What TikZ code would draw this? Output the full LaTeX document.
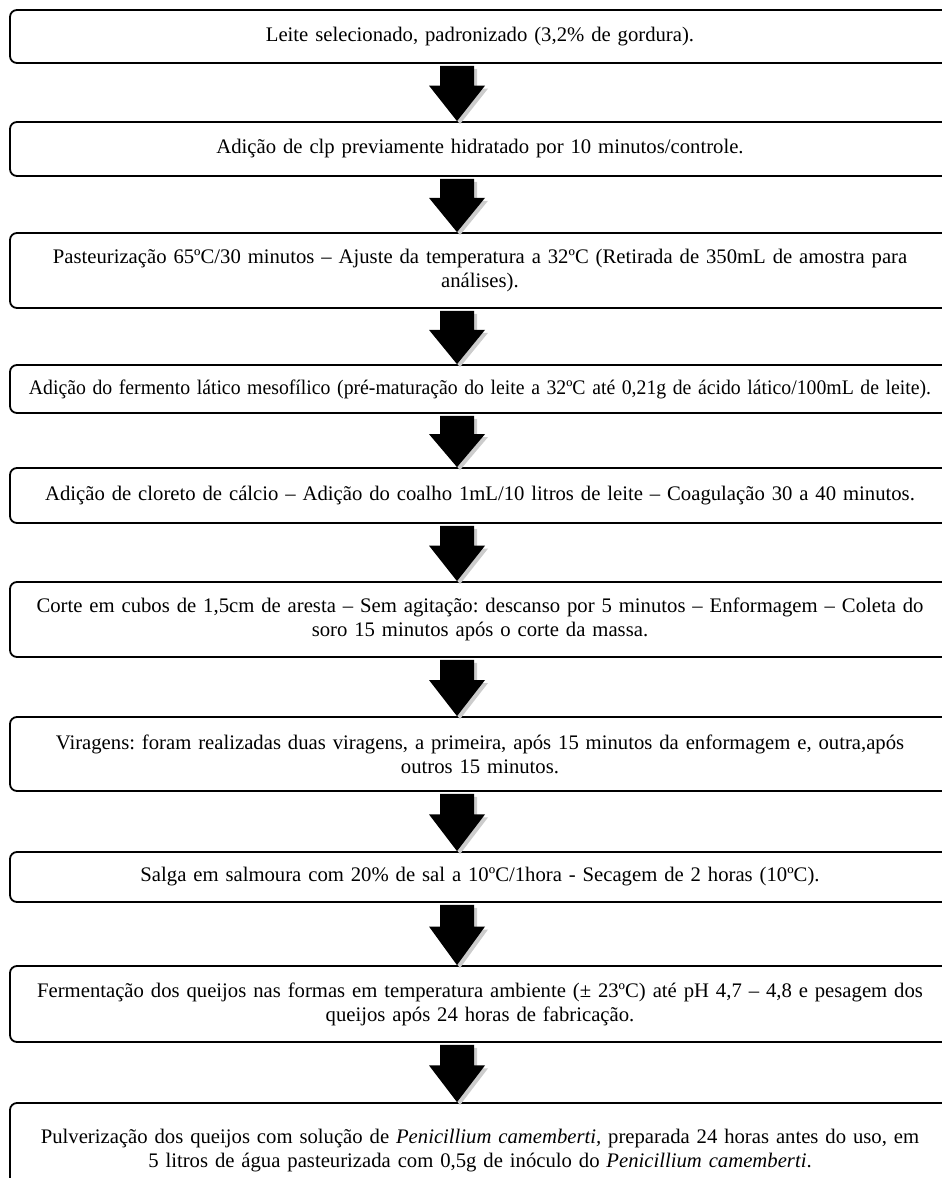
\documentclass[tikz,border=0pt]{standalone}
\usepackage{fontspec}
\setmainfont{Liberation Serif}
\usepackage{graphicx}
\usetikzlibrary{calc}
\frenchspacing

\tikzset{
  stage/.style={draw, line width=1.8pt, rounded corners=7pt,
    minimum width=940pt, text width=930pt, align=center, inner sep=0pt,
    font=\fontsize{20.7}{24}\selectfont},
}
% one line of text squeezed to the width it has in the flow chart
\newcommand{\fitline}[2]{\resizebox{#1pt}{\height}{#2}}
% block arrow with grey drop shadow, from the bottom of one stage to the top of the next
\newcommand{\flowarrow}[2]{%
  \foreach \dx/\dy/\col in {3/-3/gray!40, 0/0/black}{
    \fill[\col] let \p1=(#1.south), \p2=(#2.north),
      \n1={\y1-2pt+\dy pt}, \n2={\y1+0.38*(\y2-\y1)+\dy pt},
      \n3={\y2+\dy pt}, \n4={457pt+\dx pt} in
      (\n4-17pt,\n1) -- (\n4+17pt,\n1) -- (\n4+17pt,\n2) -- (\n4+28pt,\n2)
      -- (\n4,\n3) -- (\n4-28pt,\n2) -- (\n4-17pt,\n2) -- cycle;
  }
}

\begin{document}
\begin{tikzpicture}[x=1pt,y=-1pt]
  \useasboundingbox (0,0) rectangle (942,1178);
  \clip (0,0) rectangle (942,1178);

  \node[stage, minimum height=53pt] (leite) at (480,36.5)
    {Leite selecionado, padronizado (3,2\% de gordura).};
  \node[stage, minimum height=54pt] (clp) at (480,149)
    {Adição de clp previamente hidratado por 10 minutos/controle.};
  \node[stage, minimum height=75pt] (pasteur) at (480,270.5)
    {Pasteurização 65ºC/30 minutos – Ajuste da temperatura a 32ºC (Retirada de 350mL de amostra para\\ análises).};
  \node[stage, minimum height=48pt] (fermento) at (480,389)
    {\fitline{902}{Adição do fermento lático mesofílico (pré-maturação do leite a 32ºC até 0,21g de ácido lático/100mL de leite).}};
  \node[stage, minimum height=55pt] (coalho) at (480,495.5)
    {Adição de cloreto de cálcio – Adição do coalho 1mL/10 litros de leite – Coagulação 30 a 40 minutos.};
  \node[stage, minimum height=75pt] (corte) at (480,619.5)
    {Corte em cubos de 1,5cm de aresta – Sem agitação: descanso por 5 minutos – Enformagem – Coleta do\\ soro 15 minutos após o corte da massa.};
  \node[stage, minimum height=74pt] (viragem) at (480,754)
    {Viragens: foram realizadas duas viragens, a primeira, após 15 minutos da enformagem e, outra,após\\ outros 15 minutos.};
  \node[stage, minimum height=50pt] (salga) at (480,877)
    {Salga em salmoura com 20\% de sal a 10ºC/1hora - Secagem de 2 horas (10ºC).};
  \node[stage, minimum height=76pt] (fermentacao) at (480,1004)
    {Fermentação dos queijos nas formas em temperatura ambiente (± 23ºC) até pH 4,7 – 4,8 e pesagem dos\\ queijos após 24 horas de fabricação.};
  \node[stage, minimum height=96pt] (pulverizacao) at (480,1151)
    {Pulverização dos queijos com solução de \textit{Penicillium camemberti,} preparada 24 horas antes do uso, em\\ 5 litros de água pasteurizada com 0,5g de inóculo do \textit{Penicillium camemberti}.};

  \flowarrow{leite}{clp}
  \flowarrow{clp}{pasteur}
  \flowarrow{pasteur}{fermento}
  \flowarrow{fermento}{coalho}
  \flowarrow{coalho}{corte}
  \flowarrow{corte}{viragem}
  \flowarrow{viragem}{salga}
  \flowarrow{salga}{fermentacao}
  \flowarrow{fermentacao}{pulverizacao}
\end{tikzpicture}
\end{document}
